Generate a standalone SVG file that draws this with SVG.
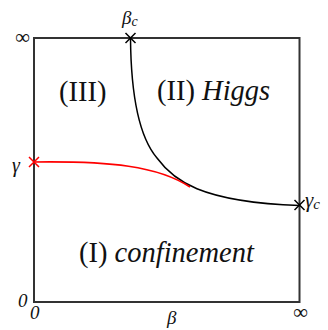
<svg xmlns="http://www.w3.org/2000/svg" width="328" height="330" viewBox="0 0 328 330">
<style>
.t{font-family:'Liberation Serif','DejaVu Serif',serif;fill:#111}
.it{font-style:italic}
.lab{font-size:19px}
.reg{font-size:28.5px}
.box{fill:none;stroke:#333;stroke-width:2}
.crv{fill:none;stroke:#000;stroke-width:1.5}
.red{fill:none;stroke:#f00;stroke-width:1.6}
.xk{stroke:#000;stroke-width:1.5}
.xr{stroke:#f00;stroke-width:1.5}
</style>
<rect width="328" height="330" fill="#fff"/>
<g id="frame">
<rect class="box" x="34" y="38" width="265.5" height="264"/>
</g>
<g id="connectors">
<path class="crv" d="M130.5,38 C131,100 140,138 157,158 C173,180 200,202 299.5,205.5"/>
<path class="red" d="M34,162 C110,161 158,166 190,187"/>
</g>
<g font-family="Liberation Serif, DejaVu Serif, serif">
<g id="beta_c_point">
<path class="xk" d="M125.5,33 L135.5,43 M135.5,33 L125.5,43"/>
<text class="t it lab" x="122" y="24">β<tspan font-size="14" dy="2">c</tspan></text>
</g>
<g id="gamma_c_point">
<path class="xk" d="M294.5,200 L304.5,210 M304.5,200 L294.5,210"/>
<text class="t it" x="305" y="207" font-size="21">γ<tspan font-size="15" dy="2">c</tspan></text>
</g>
<g id="gamma_point">
<path class="xr" d="M29,157 L39,167 M39,157 L29,167"/>
<text class="t it" x="12" y="172" font-size="20">γ</text>
</g>
<g id="region3"><text class="t reg" x="59" y="101">(III)</text></g>
<g id="region2"><text class="t reg" x="157" y="100">(II) <tspan class="it">Higgs</tspan></text></g>
<g id="region1"><text class="t reg" x="79" y="262">(I) <tspan class="it">confinement</tspan></text></g>
<g id="axis_labels">
<text class="t" x="15" y="44" font-size="21">∞</text>
<text class="t" x="293" y="319" font-size="21">∞</text>
<text class="t it lab" x="18" y="307">0</text>
<text class="t it lab" x="30" y="319">0</text>
<text class="t it lab" x="167" y="324">β</text>
</g>
</g>
</svg>
